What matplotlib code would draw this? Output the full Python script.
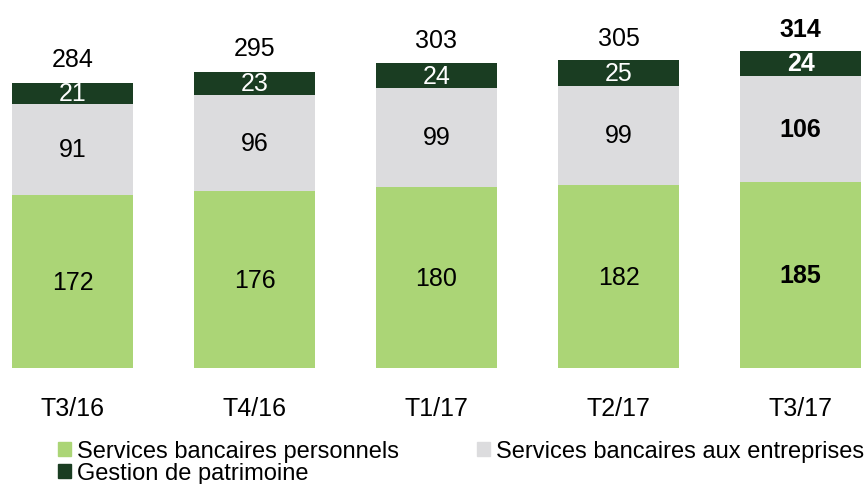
import numpy as np
import matplotlib
matplotlib.use("Agg")
import matplotlib.pyplot as plt
from matplotlib.patches import Patch

plt.rcParams['font.family'] = ['Liberation Sans', 'DejaVu Sans']

# Trimestres et revenus par secteur (M$)
quarters = ['T3/16', 'T4/16', 'T1/17', 'T2/17', 'T3/17']
personnels = [172, 176, 180, 182, 185]
entreprises = [91, 96, 99, 99, 106]
patrimoine = [21, 23, 24, 25, 24]
totals = [284, 295, 303, 305, 314]

series_names = ['Services bancaires personnels',
                'Services bancaires aux entreprises',
                'Gestion de patrimoine']
colors = ['#ABD576', '#DCDCDE', '#1A3D22']
text_colors = ['black', 'black', 'white']

W, H = 866, 485
fig = plt.figure(figsize=(W / 100, H / 100), dpi=100)
# axe horizontal à 369 px du haut, ~1 px par M$
ax = fig.add_axes([0, (H - 369) / H, 1, 369 / H])

x = np.arange(len(quarters))
width = 0.665
bottom = np.zeros(len(quarters))
for vals, col, tcol in zip([personnels, entreprises, patrimoine], colors, text_colors):
    vals = np.array(vals, dtype=float)
    ax.bar(x, vals, width, bottom=bottom, color=col, edgecolor='none')
    for i, v in enumerate(vals):
        bold = i == len(quarters) - 1
        ax.text(x[i], bottom[i] + v / 2, f'{int(v)}', ha='center', va='center',
                fontsize=18, color=tcol, fontweight='bold' if bold else 'normal')
    bottom += vals

# totaux au-dessus des barres
for i, t in enumerate(totals):
    bold = i == len(quarters) - 1
    ax.annotate(f'{t}', (x[i], t), xytext=(0, 8), textcoords='offset points',
                ha='center', va='bottom', fontsize=18,
                fontweight='bold' if bold else 'normal')

ax.set_xlim(-72.5 / 182, (W - 72.5) / 182)
ax.set_ylim(0, 369 / 1.005)
ax.set_xticks(x)
ax.set_xticklabels(quarters, fontsize=18)
ax.tick_params(axis='x', length=0, pad=20)
ax.set_yticks([])
for s in ax.spines.values():
    s.set_visible(False)

# légende : ordre choisi pour obtenir deux entrées sur la première ligne
handles = [Patch(color=colors[0]), Patch(color=colors[2]), Patch(color=colors[1])]
labels = [series_names[0], series_names[2], series_names[1]]
fig.legend(handles, labels, ncol=2, loc='upper left',
           bbox_to_anchor=(58 / W, 1 - 441 / H), frameon=False, fontsize=17,
           handlelength=0.55, handleheight=0.55, handletextpad=0.25,
           columnspacing=3.3, labelspacing=0.0, borderpad=0, borderaxespad=0)

fig.savefig('out.png', dpi=100)
